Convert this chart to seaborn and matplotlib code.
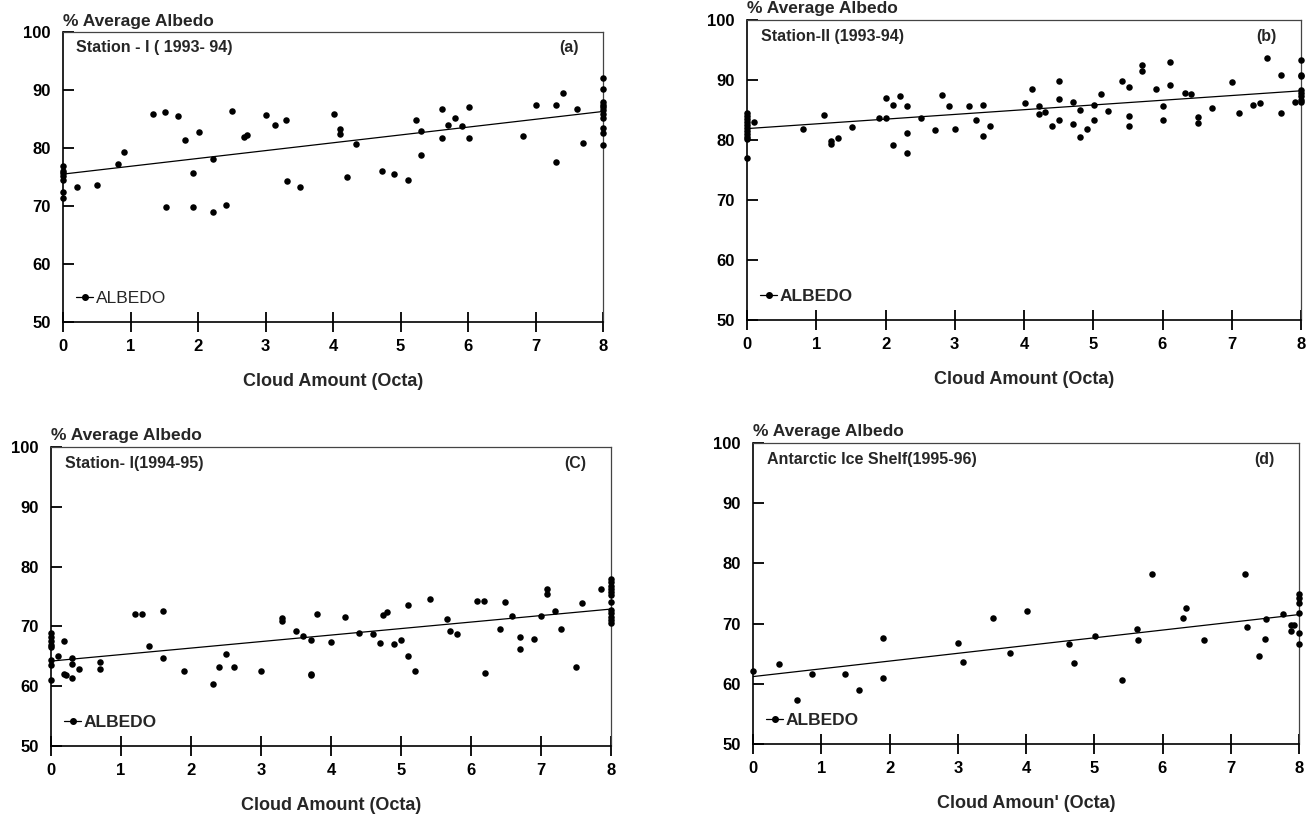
import matplotlib
matplotlib.use("Agg")
import matplotlib.pyplot as plt
import seaborn as sns
import numpy as np
from matplotlib.lines import Line2D

# ---------------- data ----------------
x_ticks = [0, 1, 2, 3, 4, 5, 6, 7, 8]
y_ticks = [50, 60, 70, 80, 90, 100]
fit_x = [0, 8]

# (a) Station - I (1993-94)
a_x = [0, 0, 0, 0, 0, 0, 0, 0.21, 0.51, 0.82, 0.91, 1.34, 1.51, 1.52, 1.71, 1.81, 1.92, 1.92,
       2.02, 2.22, 2.22, 2.42, 2.51, 2.68, 2.72, 3.01, 3.14, 3.31, 3.32, 3.51, 4.01, 4.11,
       4.11, 4.21, 4.34, 4.72, 4.91, 5.11, 5.23, 5.31, 5.31, 5.61, 5.61, 5.71, 5.81, 5.91,
       6.01, 6.01, 6.81, 7.01, 7.31, 7.31, 7.40, 7.61, 7.71,
       8, 8, 8, 8, 8, 8, 8, 8, 8, 8, 8]
a_y = [76.9, 76.1, 75.7, 75.2, 74.4, 72.5, 71.4, 73.2, 73.7, 77.2, 79.3, 85.8, 86.2, 69.9,
       85.5, 81.3, 75.7, 69.8, 82.8, 78.1, 68.9, 70.1, 86.4, 81.9, 82.3, 85.7, 83.9, 84.8,
       74.3, 73.2, 85.9, 83.2, 82.5, 75.0, 80.7, 76.1, 75.5, 74.5, 84.8, 83.0, 78.8, 86.7,
       81.7, 84.0, 85.2, 83.8, 87.1, 81.7, 82.0, 87.4, 87.4, 77.6, 89.5, 86.8, 80.9,
       92.1, 90.2, 88.0, 87.5, 87.0, 86.5, 85.9, 85.1, 83.5, 82.6, 80.5]
a_fit = [75.5, 86.3]

# (b) Station-II (1993-94)
b_x = [0, 0, 0, 0, 0, 0, 0, 0, 0, 0, 0, 0.10, 0.81, 1.11, 1.21, 1.21, 1.31, 1.51, 1.91, 2.01,
       2.01, 2.11, 2.11, 2.21, 2.31, 2.31, 2.31, 2.51, 2.71, 2.81, 2.91, 3.01, 3.21, 3.31,
       3.41, 3.41, 3.51, 4.01, 4.11, 4.21, 4.21, 4.31, 4.41, 4.51, 4.51, 4.51, 4.71, 4.71,
       4.81, 4.81, 4.91, 5.01, 5.01, 5.11, 5.21, 5.41, 5.51, 5.51, 5.51, 5.71, 5.71, 5.91,
       6.01, 6.01, 6.11, 6.11, 6.32, 6.41, 6.51, 6.51, 6.71, 7.01, 7.11, 7.31, 7.41, 7.51,
       7.71, 7.71, 7.91,
       8, 8, 8, 8, 8, 8, 8, 8]
b_y = [84.5, 84.0, 83.5, 83.0, 82.5, 82.0, 81.5, 81.0, 80.5, 80.2, 77.0, 83.0, 81.9, 84.1,
       79.8, 79.4, 80.4, 82.2, 83.6, 83.6, 87.0, 85.9, 79.1, 87.3, 85.6, 81.1, 77.9, 83.6,
       81.7, 87.5, 85.6, 81.9, 85.6, 83.4, 85.9, 80.6, 82.3, 86.1, 88.5, 85.6, 84.3, 84.7,
       82.4, 89.9, 86.9, 83.3, 86.4, 82.6, 85.0, 80.5, 81.8, 85.9, 83.4, 87.6, 84.8, 89.9,
       88.9, 84.0, 82.4, 92.5, 91.5, 88.5, 85.7, 83.4, 93.0, 89.2, 87.8, 87.7, 83.9, 82.9,
       85.3, 89.6, 84.5, 85.9, 86.1, 93.6, 90.9, 84.5, 86.3,
       93.3, 90.9, 90.7, 88.4, 87.8, 87.3, 86.7, 86.3]
b_fit = [81.9, 88.2]

# (c) Station- I (1994-95)
c_x = [0, 0, 0, 0, 0, 0, 0, 0, 0.10, 0.19, 0.19, 0.21, 0.30, 0.30, 0.30, 0.40, 0.70, 0.70,
       1.20, 1.30, 1.40, 1.60, 1.60, 1.90, 2.31, 2.40, 2.50, 2.61, 3.00, 3.30, 3.30, 3.50,
       3.60, 3.71, 3.71, 3.71, 3.80, 4.00, 4.20, 4.40, 4.60, 4.70, 4.74, 4.80, 4.90, 5.00,
       5.10, 5.10, 5.20, 5.41, 5.66, 5.70, 5.80, 6.09, 6.19, 6.20, 6.41, 6.49, 6.59, 6.70,
       6.70, 6.90, 7.00, 7.09, 7.09, 7.20, 7.29, 7.50, 7.59, 7.86,
       8, 8, 8, 8, 8, 8, 8, 8, 8, 8, 8, 8]
c_y = [68.9, 68.3, 67.5, 66.9, 66.6, 64.3, 63.5, 61.0, 65.0, 67.6, 62.1, 61.8, 64.7, 63.7,
       61.3, 62.8, 64.1, 62.8, 72.0, 72.0, 66.7, 72.5, 64.7, 62.6, 60.4, 63.2, 65.4, 63.2,
       62.6, 71.4, 70.9, 69.2, 68.4, 67.7, 62.1, 61.8, 72.1, 67.4, 71.6, 68.9, 68.7, 67.2,
       71.9, 72.4, 67.0, 67.7, 73.6, 65.0, 62.6, 74.6, 71.3, 69.2, 68.7, 74.3, 74.3, 62.2,
       69.6, 74.1, 71.8, 68.2, 66.2, 67.9, 71.8, 76.3, 75.5, 72.5, 69.6, 63.2, 73.9, 76.3,
       77.9, 77.4, 76.8, 76.3, 75.7, 75.2, 74.1, 72.7, 72.2, 71.6, 71.1, 70.5]
c_fit = [64.2, 72.9]

# (d) Antarctic Ice Shelf (1995-96)
d_x = [0.00, 0.38, 0.64, 0.86, 1.35, 1.55, 1.90, 1.90, 3.01, 3.07, 3.52, 3.77, 4.01, 4.63,
       4.70, 5.01, 5.41, 5.62, 5.64, 5.84, 6.30, 6.34, 6.61, 7.21, 7.24, 7.42, 7.50, 7.52,
       7.77, 7.88, 7.89, 7.92,
       8, 8, 8, 8, 8, 8]
d_y = [62.2, 63.3, 57.3, 61.6, 61.7, 59.0, 67.6, 61.0, 66.7, 63.6, 70.9, 65.1, 72.1, 66.6,
       63.5, 68.0, 60.6, 69.1, 67.2, 78.3, 70.9, 72.6, 67.3, 78.3, 69.4, 64.7, 67.4, 70.8,
       71.6, 69.8, 68.8, 69.8,
       74.9, 74.3, 73.4, 71.8, 68.5, 66.6]
d_fit = [61.2, 71.5]

panels = [
    dict(x=a_x, y=a_y, fit=a_fit, name="Station - I ( 1993- 94)", tag="(a)",
         xlabel="Cloud Amount (Octa)", legend_bold=False),
    dict(x=b_x, y=b_y, fit=b_fit, name="Station-II (1993-94)", tag="(b)",
         xlabel="Cloud Amount (Octa)", legend_bold=True),
    dict(x=c_x, y=c_y, fit=c_fit, name="Station- I(1994-95)", tag="(C)",
         xlabel="Cloud Amount (Octa)", legend_bold=True),
    dict(x=d_x, y=d_y, fit=d_fit, name="Antarctic Ice Shelf(1995-96)", tag="(d)",
         xlabel="Cloud Amoun' (Octa)", legend_bold=True),
]

# ---------------- style ----------------
sns.set_theme(style="white")
plt.rcParams.update({
    "font.family": ["Liberation Sans", "DejaVu Sans"],
    "font.weight": "bold",
    "xtick.bottom": True,
    "ytick.left": True,
    "xtick.direction": "inout",
    "ytick.direction": "in",
    "xtick.major.size": 14,
    "ytick.major.size": 8,
    "xtick.major.width": 1.3,
    "ytick.major.width": 1.3,
    "xtick.color": "black",
    "ytick.color": "black",
})

W, H = 1312, 818
fig = plt.figure(figsize=(W / 100, H / 100), dpi=100)
fig.patch.set_facecolor("white")

# axes boxes in pixels: left, top, right, bottom
boxes = [(63, 32, 603, 322), (747, 20, 1301, 320),
         (51, 447, 611, 746), (753, 443, 1299, 744)]

for p, (l, t, r, b) in zip(panels, boxes):
    wpx, hpx = r - l, b - t
    ax = fig.add_axes([l / W, 1 - b / H, wpx / W, hpx / H])
    ax.set_facecolor("white")
    sns.scatterplot(x=p["x"], y=p["y"], ax=ax, color="black", s=22,
                    linewidth=0, clip_on=False, zorder=3)
    sns.lineplot(x=fit_x, y=p["fit"], ax=ax, color="black", linewidth=0.9)
    ax.set_xlim(0, 8)
    ax.set_ylim(50, 100)
    ax.set_xticks(x_ticks)
    ax.set_yticks(y_ticks)
    ax.set_xticklabels([str(v) for v in x_ticks], fontsize=12, fontweight="bold")
    ax.set_yticklabels([str(v) for v in y_ticks], fontsize=12, fontweight="bold")
    ax.tick_params(axis="x", which="major", bottom=True, top=False, direction="inout",
                   length=14, width=1.3, pad=5, color="black", labelcolor="black")
    ax.tick_params(axis="y", which="major", left=True, right=False, direction="in",
                   length=8, width=1.3, pad=9, color="black", labelcolor="black")
    for side in ("left", "bottom"):
        ax.spines[side].set_color("black")
        ax.spines[side].set_linewidth(1.2)
    for side in ("top", "right"):
        ax.spines[side].set_color("#444444")
        ax.spines[side].set_linewidth(0.9)
    ax.set_xlabel(p["xlabel"], fontsize=13, fontweight="bold", labelpad=14)
    ax.set_ylabel("")
    ax.text(0.0, 1.012, "% Average Albedo", transform=ax.transAxes, ha="left",
            va="bottom", fontsize=12.5, fontweight="bold")
    ax.text(0.025, 0.945, p["name"], transform=ax.transAxes, ha="left", va="center",
            fontsize=11.5, fontweight="bold")
    ax.text(0.955, 0.945, p["tag"], transform=ax.transAxes, ha="right", va="center",
            fontsize=11.5, fontweight="bold")
    handle = Line2D([], [], color="black", marker="o", markersize=4, linewidth=0.9)
    ax.legend([handle], ["ALBEDO"], loc="lower left", bbox_to_anchor=(-0.005, 0.0),
              frameon=False, handlelength=1.0, handletextpad=0.15,
              prop={"size": 12.5, "weight": "bold" if p["legend_bold"] else "normal"})

fig.savefig("out.png", dpi=100, facecolor="white")
